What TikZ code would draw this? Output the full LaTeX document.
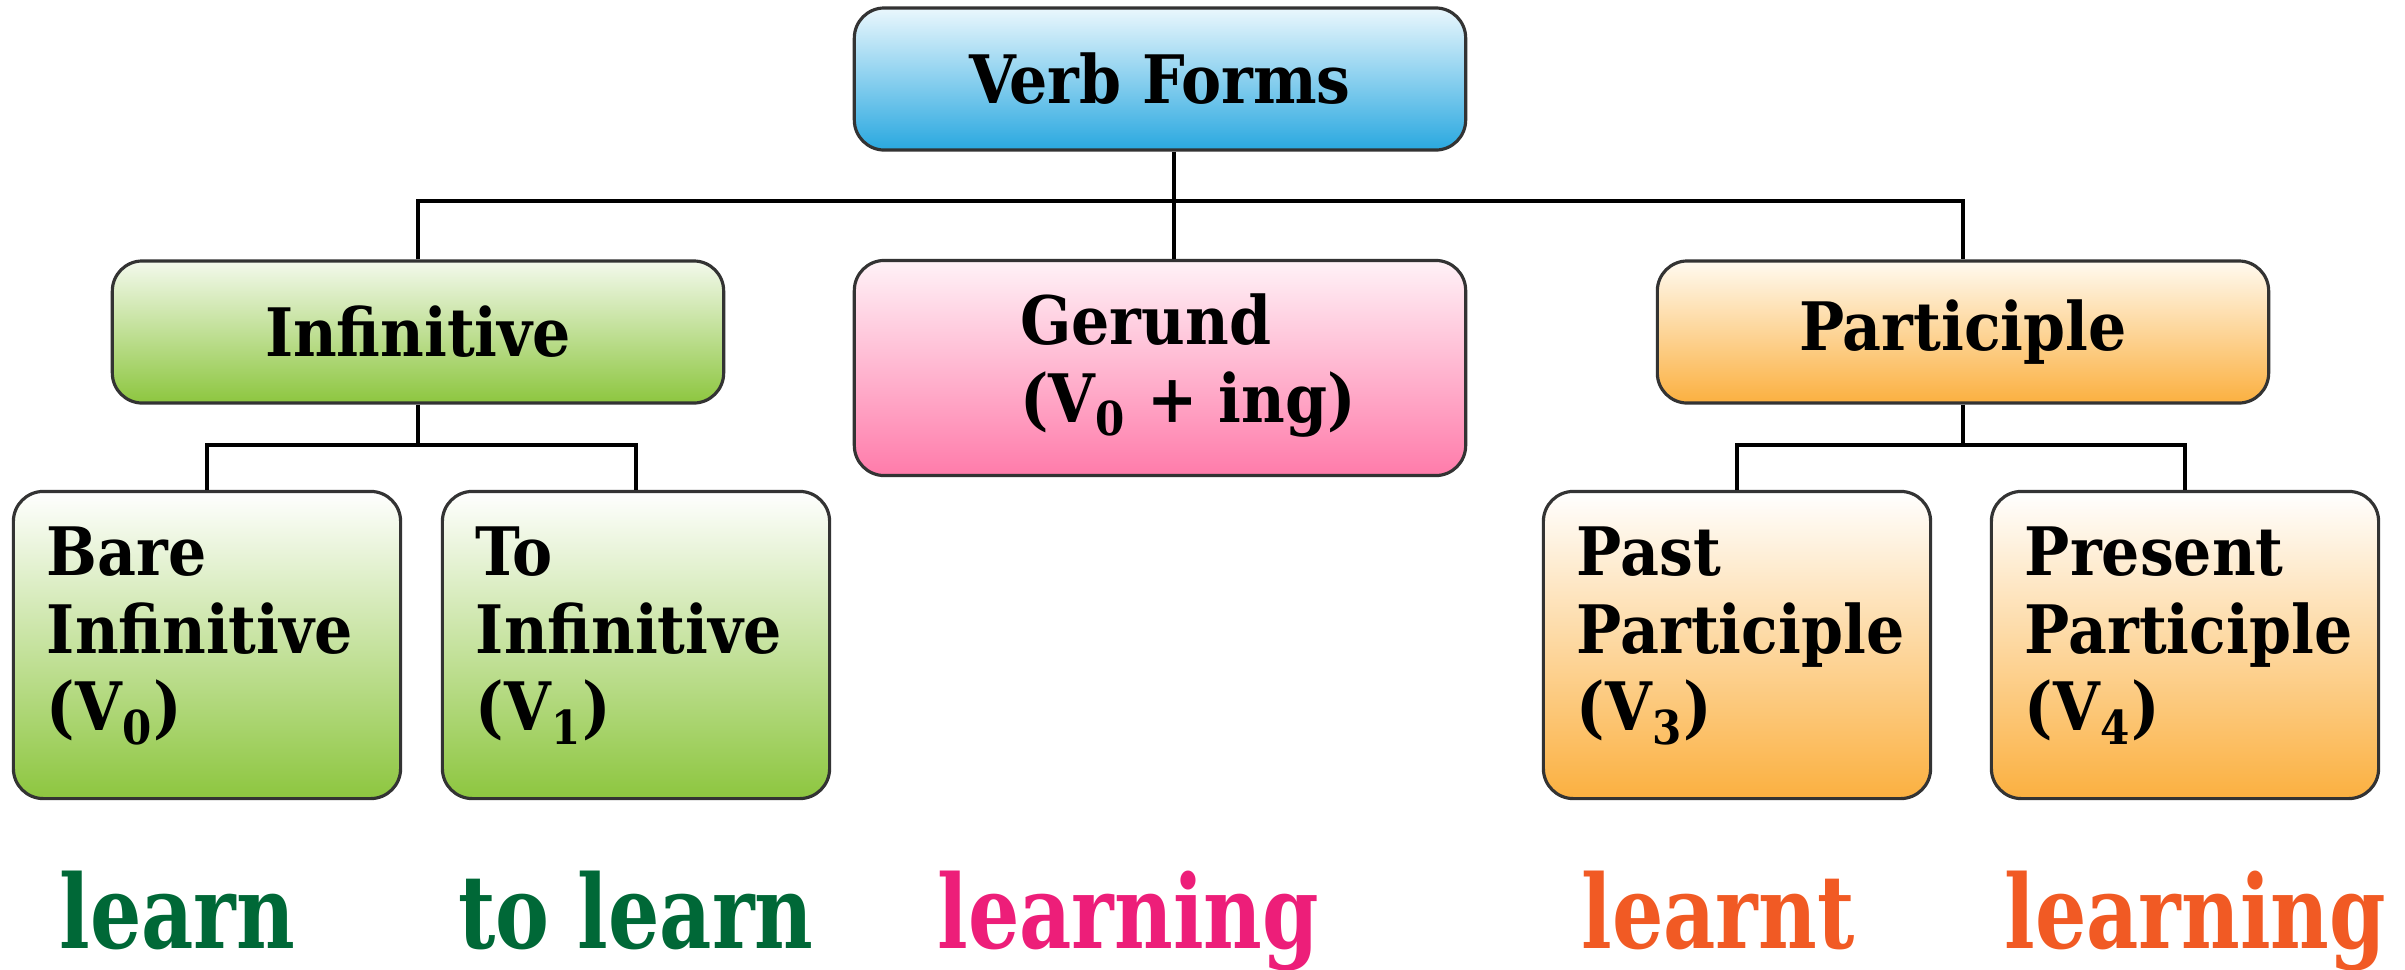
\documentclass[tikz,border=0pt]{standalone}
\usepackage{fontspec}
\setmainfont{DejaVu Serif Condensed}
\newfontfamily\examplefont{DejaVu Serif Condensed}[FakeStretch=0.88]
\usetikzlibrary{positioning}
\definecolor{rootbot}{HTML}{29A8E0}
\definecolor{roottop}{HTML}{EAF7FD}
\definecolor{infbot}{HTML}{8DC63F}
\definecolor{inftop}{HTML}{F3F9EC}
\definecolor{gerbot}{HTML}{FF7BAA}
\definecolor{gertop}{HTML}{FFF2F7}
\definecolor{partbot}{HTML}{FBB040}
\definecolor{parttop}{HTML}{FFFAF0}
\definecolor{wgreen}{HTML}{006837}
\definecolor{wpink}{HTML}{ED1E79}
\definecolor{worange}{HTML}{F15A24}
\tikzset{every picture/.style={line width=0.9pt}}
\tikzset{
  formbox/.style={draw=black!80, rounded corners=0.3cm, inner sep=0pt,
    font=\fontsize{19}{22}\selectfont\bfseries, align=center},
  bigbox/.style={formbox, minimum width=6.11cm, minimum height=1.42cm},
  smallbox/.style={formbox, minimum width=3.87cm, minimum height=3.07cm,
    text width=3.2cm, align=left},
  example/.style={anchor=base west, inner sep=0pt, font=\examplefont\fontsize{29}{32}\selectfont\bfseries},
}
\begin{document}
\begin{tikzpicture}[x=0.01cm,y=-0.01cm]
\useasboundingbox (0,0) rectangle (2405,969);
\node[bigbox, top color=roottop, bottom color=rootbot] (root) at (1160,79) {Verb Forms};
%
\node[bigbox, top color=inftop, bottom color=infbot] (inf) at (418,332) {Infinitive};
\node[bigbox, minimum height=2.15cm, top color=gertop, bottom color=gerbot] (ger) at (1160,368) {\hspace*{0.56cm}\raisebox{-0.1cm}{\begin{tabular}{@{}l@{}}Gerund\\(V\textsubscript{0} + ing)\end{tabular}}};
\node[bigbox, top color=parttop, bottom color=partbot] (part) at (1963,332) {Participle};
%
\node[smallbox, top color=white, bottom color=infbot] (bare) at (207,645) {Bare\\Infinitive\\(V\textsubscript{0})\\[-0.45cm]\mbox{}};
\node[smallbox, top color=white, bottom color=infbot] (toinf) at (636,645) {To\\Infinitive\\(V\textsubscript{1})\\[-0.45cm]\mbox{}};
\node[smallbox, top color=white, bottom color=partbot] (past) at (1737,645) {Past\\Participle\\(V\textsubscript{3})\\[-0.45cm]\mbox{}};
\node[smallbox, top color=white, bottom color=partbot] (pres) at (2185,645) {Present\\Participle\\(V\textsubscript{4})\\[-0.45cm]\mbox{}};
%
\coordinate (bus) at (1174,201);
\coordinate (infbus) at (418,445);
\coordinate (partbus) at (1963,445);
\draw (root.south -| bus) -- (ger.north -| bus);
\draw (inf.north) |- (bus) -| (part.north);
\draw (inf.south) -- (infbus);
\draw (bare.north) |- (infbus) -| (toinf.north);
\draw (part.south) -- (partbus);
\draw (past.north) |- (partbus) -| (pres.north);
%
\node[example, text=wgreen] (ex0) at (58,948) {learn};
\node[example, text=wgreen] (ex1) at (457,948) {to learn};
\node[example, text=wpink] (ex2) at (936,948) {learning};
\node[example, text=worange] (ex3) at (1580,948) {learnt};
\node[example, text=worange] (ex4) at (2003,948) {learning};
\end{tikzpicture}
\end{document}
